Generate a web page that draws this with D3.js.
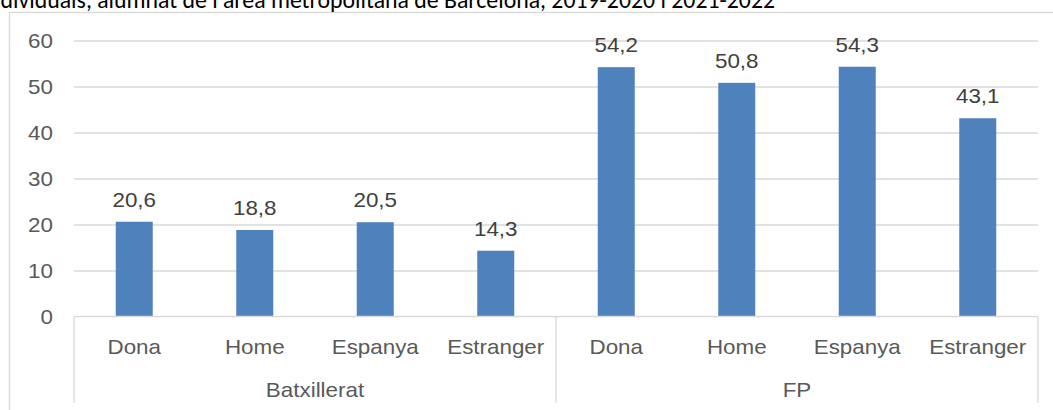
<!DOCTYPE html>
<html>
<head>
<meta charset="utf-8">
<script src="https://cdn.jsdelivr.net/npm/d3@7"></script>
<style>
  html, body { margin: 0; padding: 0; background: #fff; }
  svg { display: block; }
</style>
</head>
<body>
<svg id="chart" width="1053" height="410"></svg>
<script>
// Chart data
const groups = ["Batxillerat", "FP"];
const subcategories = ["Dona", "Home", "Espanya", "Estranger"];
const batxilleratValues = [20.6, 18.8, 20.5, 14.3];
const fpValues = [54.2, 50.8, 54.3, 43.1];
const yTicks = [0, 10, 20, 30, 40, 50, 60];
const titleText = "individuals, alumnat de l'àrea metropolitana de Barcelona, 2019-2020 i 2021-2022";

const rows = [];
[batxilleratValues, fpValues].forEach((vals, gi) => {
  subcategories.forEach((s, si) => rows.push({ group: groups[gi], sub: s, key: groups[gi] + "|" + s, value: vals[si] }));
});

const W = 1053, H = 410;
const plot = { left: 74, right: 1038, top: 40.5, bottom: 316.5 };
const SX = 1.12;              // horizontal text stretch
const FONT = "'Liberation Sans', Arial, sans-serif";
const TITLE_FONT = "Carlito, Lato, 'Open Sans', sans-serif";

const svg = d3.select("#chart");

const x = d3.scaleBand()
  .domain(rows.map(d => d.key))
  .range([plot.left, plot.right])
  .paddingInner(0.693)
  .paddingOuter(0.3465);

const y = d3.scaleLinear().domain([0, 60]).range([plot.bottom, plot.top]);

const fmt = d3.formatLocale({ decimal: ",", thousands: ".", grouping: [3], currency: ["", "€"] }).format(".1f");

// Outer frame of the chart area
svg.append("rect")
  .attr("x", 9.5).attr("y", 12.5).attr("width", 1060).attr("height", 420)
  .attr("fill", "none").attr("stroke", "#D9D9D9").attr("stroke-width", 1.3);

// Title: sized so its tail ends at x = 775, the head running past the left edge
const probe = svg.append("text")
  .attr("font-family", TITLE_FONT).attr("font-size", 20)
  .text(titleText.slice(2));
const tailLen = probe.node().getComputedTextLength();
probe.remove();
const titleSize = 20 * 775 / tailLen;
svg.append("text")
  .attr("x", 775).attr("y", 8)
  .attr("text-anchor", "end")
  .attr("font-family", TITLE_FONT)
  .attr("font-size", titleSize)
  .attr("fill", "#000")
  .text(titleText);

// Gridlines
const grid = svg.append("g")
  .attr("transform", `translate(${plot.left},0)`)
  .call(d3.axisLeft(y).tickValues(yTicks.filter(t => t > 0)).tickSize(-(plot.right - plot.left)).tickFormat(""));
grid.select(".domain").remove();
grid.selectAll("line").attr("stroke", "#D9D9D9").attr("stroke-width", 1.3);

// Y tick labels
const yAxis = svg.append("g")
  .attr("transform", `translate(${plot.left},0)`)
  .call(d3.axisLeft(y).tickValues(yTicks).tickSize(0).tickPadding(21));
yAxis.select(".domain").remove();
yAxis.selectAll("text")
  .attr("font-family", FONT).attr("font-size", 20).attr("fill", "#595959")
  .attr("dy", "0.35em")
  .attr("transform", `scale(${SX},1)`)
  .attr("x", -21 / SX);

// Bars
svg.append("g").selectAll("rect")
  .data(rows)
  .join("rect")
  .attr("x", d => x(d.key))
  .attr("y", d => y(d.value))
  .attr("width", x.bandwidth())
  .attr("height", d => y(0) - y(d.value))
  .attr("fill", "#4F81BD");

// Value labels
svg.append("g").selectAll("text")
  .data(rows)
  .join("text")
  .attr("transform", d => `translate(${x(d.key) + x.bandwidth() / 2},${y(d.value) - 15}) scale(${SX},1)`)
  .attr("text-anchor", "middle")
  .attr("font-family", FONT).attr("font-size", 20).attr("fill", "#404040")
  .text(d => fmt(d.value));

// Category axis line and group dividers
const axisG = svg.append("g");
axisG.append("line")
  .attr("x1", plot.left).attr("x2", plot.right)
  .attr("y1", plot.bottom).attr("y2", plot.bottom)
  .attr("stroke", "#D9D9D9").attr("stroke-width", 1.3);

const groupEdges = [plot.left];
groups.forEach(g => {
  const keys = rows.filter(r => r.group === g).map(r => r.key);
  groupEdges.push(x(keys[keys.length - 1]) + x.bandwidth() + x.step() * x.paddingInner() / 2);
});
axisG.selectAll(".divider")
  .data(groupEdges)
  .join("line")
  .attr("class", "divider")
  .attr("x1", d => d).attr("x2", d => d)
  .attr("y1", plot.bottom).attr("y2", 403)
  .attr("stroke", "#D9D9D9").attr("stroke-width", 1.3);

// Subcategory labels
axisG.selectAll(".sub")
  .data(rows)
  .join("text")
  .attr("class", "sub")
  .attr("transform", d => `translate(${x(d.key) + x.bandwidth() / 2},354) scale(${SX},1)`)
  .attr("text-anchor", "middle")
  .attr("font-family", FONT).attr("font-size", 20).attr("fill", "#595959")
  .text(d => d.sub);

// Group labels
axisG.selectAll(".grp")
  .data(groups.map((g, i) => ({ g, c: (groupEdges[i] + groupEdges[i + 1]) / 2 })))
  .join("text")
  .attr("class", "grp")
  .attr("transform", d => `translate(${d.c},397) scale(${SX},1)`)
  .attr("text-anchor", "middle")
  .attr("font-family", FONT).attr("font-size", 20).attr("fill", "#595959")
  .text(d => d.g);
</script>
</body>
</html>
